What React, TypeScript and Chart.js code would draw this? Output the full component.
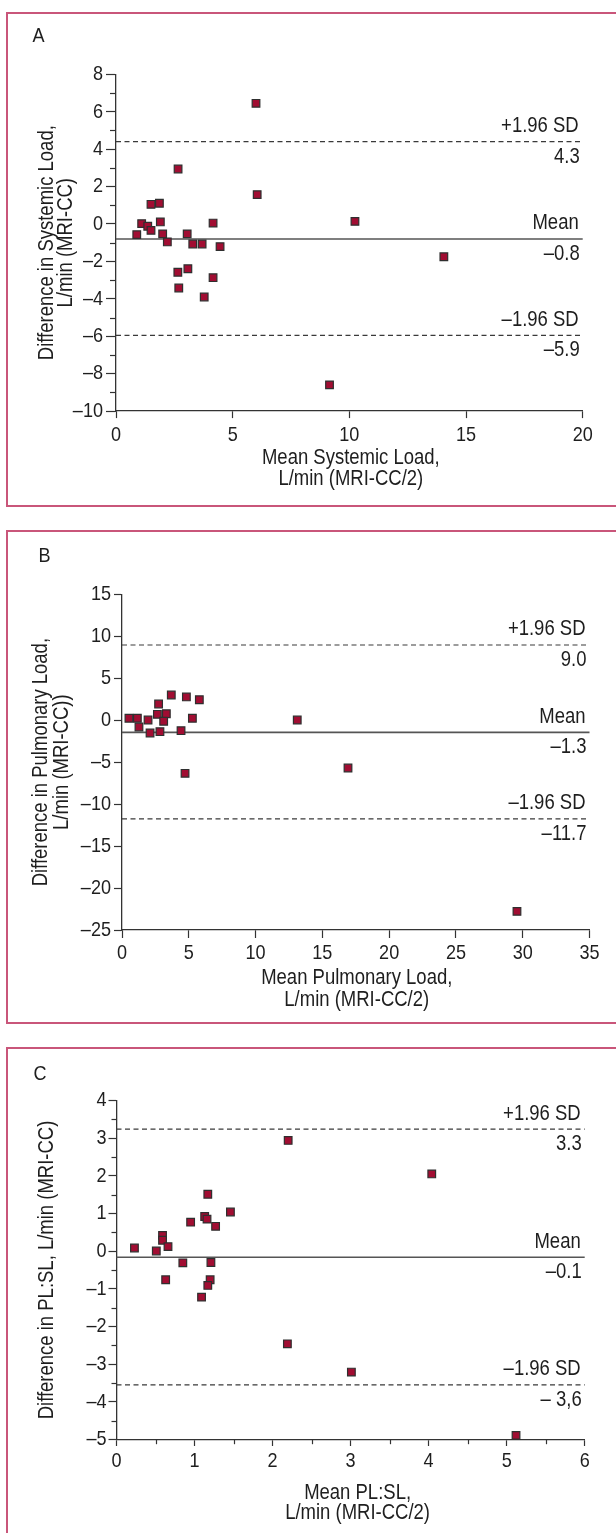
import React, { useEffect, useRef } from 'react';
import { Chart, registerables } from 'chart.js';

Chart.register(...registerables);

const FONT = "'Liberation Sans', Arial, sans-serif";
const SX = 0.86; // horizontal compression to imitate a condensed face
const TEXT = '#1e1e1e';
const AXIS = '#333333';
const POINT_FILL = '#a10d32';
const POINT_EDGE = '#2f2f2f';
const FRAME = '#c9567a';

const LIMIT_NAMES = ['+1.96 SD', 'Mean', '–1.96 SD'];

// ---------- Panel A : systemic load ----------
const meanA = [6.0, 2.66, 6.05, 1.5, 1.86, 1.1, 1.36, 1.5, 1.9, 0.89, 2.0, 2.2, 3.05, 4.16, 3.29, 3.69, 4.46, 10.24, 14.05, 2.65, 3.08, 4.16, 2.69, 3.78, 9.15];
const diffA = [6.45, 2.94, 1.57, 1.05, 1.11, 0.02, -0.12, -0.34, 0.11, -0.57, -0.53, -0.96, -0.53, 0.05, -1.07, -1.07, -1.21, 0.14, -1.75, -2.58, -2.39, -2.87, -3.42, -3.9, -8.6];
const limitsA = [4.4, -0.8, -5.95];
const limitTextA = ['4.3', '–0.8', '–5.9'];
const xTitleA = ['Mean Systemic Load,', 'L/min (MRI-CC/2)'];
const yTitleA = ['Difference in Systemic Load,', 'L/min (MRI-CC)'];

// ---------- Panel B : pulmonary load ----------
const meanB = [0.52, 1.15, 1.27, 1.95, 2.1, 2.74, 2.65, 3.32, 3.12, 2.84, 3.69, 4.82, 5.79, 5.27, 4.42, 13.12, 4.72, 16.92, 29.57];
const diffB = [0.23, 0.23, -0.81, 0.02, -1.53, 1.93, 0.7, 0.77, -0.13, -1.37, 3.0, 2.77, 2.44, 0.23, -1.25, 0.02, -6.33, -5.7, -22.78];
const limitsB = [8.96, -1.45, -11.75];
const limitTextB = ['9.0', '–1.3', '–11.7'];
const xTitleB = ['Mean Pulmonary Load,', 'L/min (MRI-CC/2)'];
const yTitleB = ['Difference in Pulmonary Load,', 'L/min (MRI-CC))'];

// ---------- Panel C : PL:SL ----------
const meanC = [2.2, 4.04, 1.17, 1.46, 0.95, 1.13, 1.16, 1.27, 0.59, 0.59, 0.23, 0.51, 0.66, 0.85, 1.21, 0.63, 1.2, 1.17, 1.09, 2.19, 3.01, 5.12];
const diffC = [2.94, 2.05, 1.51, 1.04, 0.77, 0.92, 0.85, 0.66, 0.42, 0.29, 0.085, 0.005, 0.12, -0.31, -0.3, -0.76, -0.76, -0.91, -1.22, -2.46, -3.21, -4.89];
const limitsC = [3.24, -0.16, -3.55];
const limitTextC = ['3.3', '–0.1', '– 3,6'];
const xTitleC = ['Mean PL:SL,', 'L/min (MRI-CC/2)'];
const yTitleC = ['Difference in PL:SL, L/min (MRI-CC)'];

type Spec = {
  letter: string;
  top: number;
  height: number;
  xs: number[];
  ys: number[];
  limits: number[];
  limitText: string[];
  xTitle: string[];
  yTitle: string[];
  xMin: number; xMax: number; xStep: number; xMinor: boolean;
  yMin: number; yMax: number; yStep: number; yMinor: boolean;
  area: { left: number; right: number; top: number; bottom: number };
  yTickLen: number; yMinorLen: number; yPad: number;
  xTickLen: number; xMinorLen: number; xPad: number;
  xTitleDy: number[]; xTitleDx: number;
  yTitleX: number[];
  letterX: number; letterY: number;
};

const W = 616;

const specs: Spec[] = [
  {
    letter: 'A', top: 0, height: 518, xs: meanA, ys: diffA, limits: limitsA, limitText: limitTextA,
    xTitle: xTitleA, yTitle: yTitleA,
    xMin: 0, xMax: 20, xStep: 5, xMinor: false,
    yMin: -10, yMax: 8, yStep: 2, yMinor: true,
    area: { left: 116, right: 582.7, top: 74.3, bottom: 411.1 },
    yTickLen: 10, yMinorLen: 6, yPad: 3,
    xTickLen: 7, xMinorLen: 5, xPad: 5,
    xTitleDy: [46.5, 67.5], xTitleDx: 1.5,
    yTitleX: [47, 66],
    letterX: 38.5, letterY: 36.7,
  },
  {
    letter: 'B', top: 518, height: 518, xs: meanB, ys: diffB, limits: limitsB, limitText: limitTextB,
    xTitle: xTitleB, yTitle: yTitleB,
    xMin: 0, xMax: 35, xStep: 5, xMinor: false,
    yMin: -25, yMax: 15, yStep: 5, yMinor: false,
    area: { left: 122, right: 589.5, top: 76.3, bottom: 412 },
    yTickLen: 8, yMinorLen: 5, yPad: 3,
    xTickLen: 8, xMinorLen: 5, xPad: 3,
    xTitleDy: [48, 70], xTitleDx: 1,
    yTitleX: [41, 62],
    letterX: 44.5, letterY: 38.7,
  },
  {
    letter: 'C', top: 1036, height: 497, xs: meanC, ys: diffC, limits: limitsC, limitText: limitTextC,
    xTitle: xTitleC, yTitle: yTitleC,
    xMin: 0, xMax: 6, xStep: 1, xMinor: true,
    yMin: -5, yMax: 4, yStep: 1, yMinor: true,
    area: { left: 116.5, right: 584.7, top: 64.5, bottom: 403.5 },
    yTickLen: 8, yMinorLen: 5, yPad: 2,
    xTickLen: 6.5, xMinorLen: 4.7, xPad: 3.5,
    xTitleDy: [54, 74], xTitleDx: 7,
    yTitleX: [47],
    letterX: 40, letterY: 38,
  },
];

const fmt = (v: number | string) => {
  const n = Number(v);
  return n < 0 ? '–' + Math.abs(n) : String(n);
};

function drawText(ctx: CanvasRenderingContext2D, text: string, x: number, y: number, align: CanvasTextAlign, rotate = 0) {
  ctx.save();
  ctx.translate(x, y);
  if (rotate) ctx.rotate(rotate);
  ctx.scale(SX, 1);
  ctx.textAlign = align;
  ctx.textBaseline = 'middle';
  ctx.fillText(text, 0, 0);
  ctx.restore();
}

function makeOverlay(spec: Spec) {
  return {
    id: 'overlay' + spec.letter,
    beforeDatasetsDraw(chart: any) {
      const { ctx, chartArea: ca } = chart;
      const ys = chart.scales.y;
      ctx.save();
      spec.limits.forEach((v, i) => {
        const py = ys.getPixelForValue(v);
        ctx.beginPath();
        if (i === 1) {
          ctx.setLineDash([]);
          ctx.strokeStyle = '#555555';
          ctx.lineWidth = 1.6;
        } else {
          ctx.setLineDash([5, 3.5]);
          ctx.strokeStyle = '#3a3a3a';
          ctx.lineWidth = 1.2;
        }
        ctx.moveTo(ca.left, py);
        ctx.lineTo(ca.right, py);
        ctx.stroke();
      });
      ctx.restore();
    },
    afterDraw(chart: any) {
      const { ctx, chartArea: ca } = chart;
      const xs = chart.scales.x;
      const ys = chart.scales.y;
      ctx.save();
      ctx.strokeStyle = AXIS;
      ctx.lineWidth = 1.2;
      if (spec.yMinor) {
        for (let v = spec.yMin + spec.yStep / 2; v < spec.yMax; v += spec.yStep) {
          const py = Math.round(ys.getPixelForValue(v)) + 0.5;
          ctx.beginPath();
          ctx.moveTo(ca.left - spec.yMinorLen, py);
          ctx.lineTo(ca.left, py);
          ctx.stroke();
        }
      }
      if (spec.xMinor) {
        for (let v = spec.xMin + spec.xStep / 2; v < spec.xMax; v += spec.xStep) {
          const px = Math.round(xs.getPixelForValue(v)) + 0.5;
          ctx.beginPath();
          ctx.moveTo(px, ca.bottom);
          ctx.lineTo(px, ca.bottom + spec.xMinorLen);
          ctx.stroke();
        }
      }

      ctx.fillStyle = TEXT;

      // tick labels, placed from the library's own tick list and scale mapping
      ctx.font = `21px ${FONT}`;
      ys.ticks.forEach((t: any) => {
        drawText(ctx, fmt(t.value), ca.left - spec.yTickLen - spec.yPad, ys.getPixelForValue(t.value), 'right');
      });
      xs.ticks.forEach((t: any) => {
        drawText(ctx, fmt(t.value), xs.getPixelForValue(t.value), ca.bottom + spec.xTickLen + spec.xPad + 12, 'center');
      });

      ctx.font = `21.5px ${FONT}`;
      spec.limits.forEach((v, i) => {
        const py = ys.getPixelForValue(v);
        drawText(ctx, LIMIT_NAMES[i], ca.right - 4, py - 15.5, 'right');
        drawText(ctx, spec.limitText[i], ca.right - 3, py + 15, 'right');
      });

      const cx = (ca.left + ca.right) / 2 + spec.xTitleDx;
      spec.xTitle.forEach((t, i) => drawText(ctx, t, cx, ca.bottom + spec.xTitleDy[i], 'center'));

      const cy = (ca.top + ca.bottom) / 2;
      spec.yTitle.forEach((t, i) => drawText(ctx, t, spec.yTitleX[i], cy, 'center', -Math.PI / 2));

      ctx.font = `21px ${FONT}`;
      drawText(ctx, spec.letter, spec.letterX, spec.letterY, 'center');
      ctx.restore();
    },
  };
}

function buildConfig(spec: Spec): any {
  const H = spec.height;
  return {
    type: 'scatter',
    data: {
      datasets: [
        {
          data: spec.xs.map((x, i) => ({ x, y: spec.ys[i] })),
          pointStyle: 'rect',
          radius: 5.4,
          hoverRadius: 5.4,
          backgroundColor: POINT_FILL,
          borderColor: POINT_EDGE,
          borderWidth: 1.2,
          clip: false,
        },
      ],
    },
    options: {
      responsive: false,
      animation: false,
      events: [],
      layout: { padding: { top: spec.area.top, right: W - spec.area.right, left: 0, bottom: 0 } },
      plugins: { legend: { display: false }, tooltip: { enabled: false }, title: { display: false } },
      scales: {
        x: {
          type: 'linear',
          position: 'bottom',
          min: spec.xMin,
          max: spec.xMax,
          ticks: { stepSize: spec.xStep, display: false, autoSkip: false },
          grid: {
            drawOnChartArea: false,
            drawTicks: true,
            tickLength: spec.xTickLen,
            tickColor: AXIS,
            tickWidth: 1.2,
          },
          border: { display: true, color: AXIS, width: 1.3 },
          afterFit: (s: any) => {
            s.height = H - spec.area.bottom;
          },
        },
        y: {
          type: 'linear',
          position: 'left',
          min: spec.yMin,
          max: spec.yMax,
          ticks: { stepSize: spec.yStep, display: false, autoSkip: false },
          grid: {
            drawOnChartArea: false,
            drawTicks: true,
            tickLength: spec.yTickLen,
            tickColor: AXIS,
            tickWidth: 1.2,
          },
          border: { display: true, color: AXIS, width: 1.3 },
          afterFit: (s: any) => {
            s.width = spec.area.left;
          },
        },
      },
    },
    plugins: [makeOverlay(spec)],
  };
}

function Panel({ spec }: { spec: Spec }) {
  const ref = useRef<HTMLCanvasElement>(null);
  useEffect(() => {
    const canvas = ref.current;
    if (!canvas) return;
    const chart = new Chart(canvas, buildConfig(spec));
    return () => chart.destroy();
  }, [spec]);
  return (
    <canvas
      ref={ref}
      width={W}
      height={spec.height}
      style={{ position: 'absolute', left: 0, top: spec.top, width: W, height: spec.height, zIndex: 2 }}
    />
  );
}

const frames = [
  { top: 12, height: 495 },
  { top: 530, height: 494 },
  { top: 1047, height: 600 },
];

export default function App() {
  return (
    <div
      style={{
        position: 'absolute',
        left: 0,
        top: 0,
        width: W,
        height: 1533,
        overflow: 'hidden',
        background: '#ffffff',
      }}
    >
      {frames.map((f, i) => (
        <div
          key={i}
          style={{
            position: 'absolute',
            left: 6,
            top: f.top,
            width: 650,
            height: f.height,
            boxSizing: 'border-box',
            border: `2px solid ${FRAME}`,
            zIndex: 1,
          }}
        />
      ))}
      {specs.map((s) => (
        <Panel key={s.letter} spec={s} />
      ))}
    </div>
  );
}
